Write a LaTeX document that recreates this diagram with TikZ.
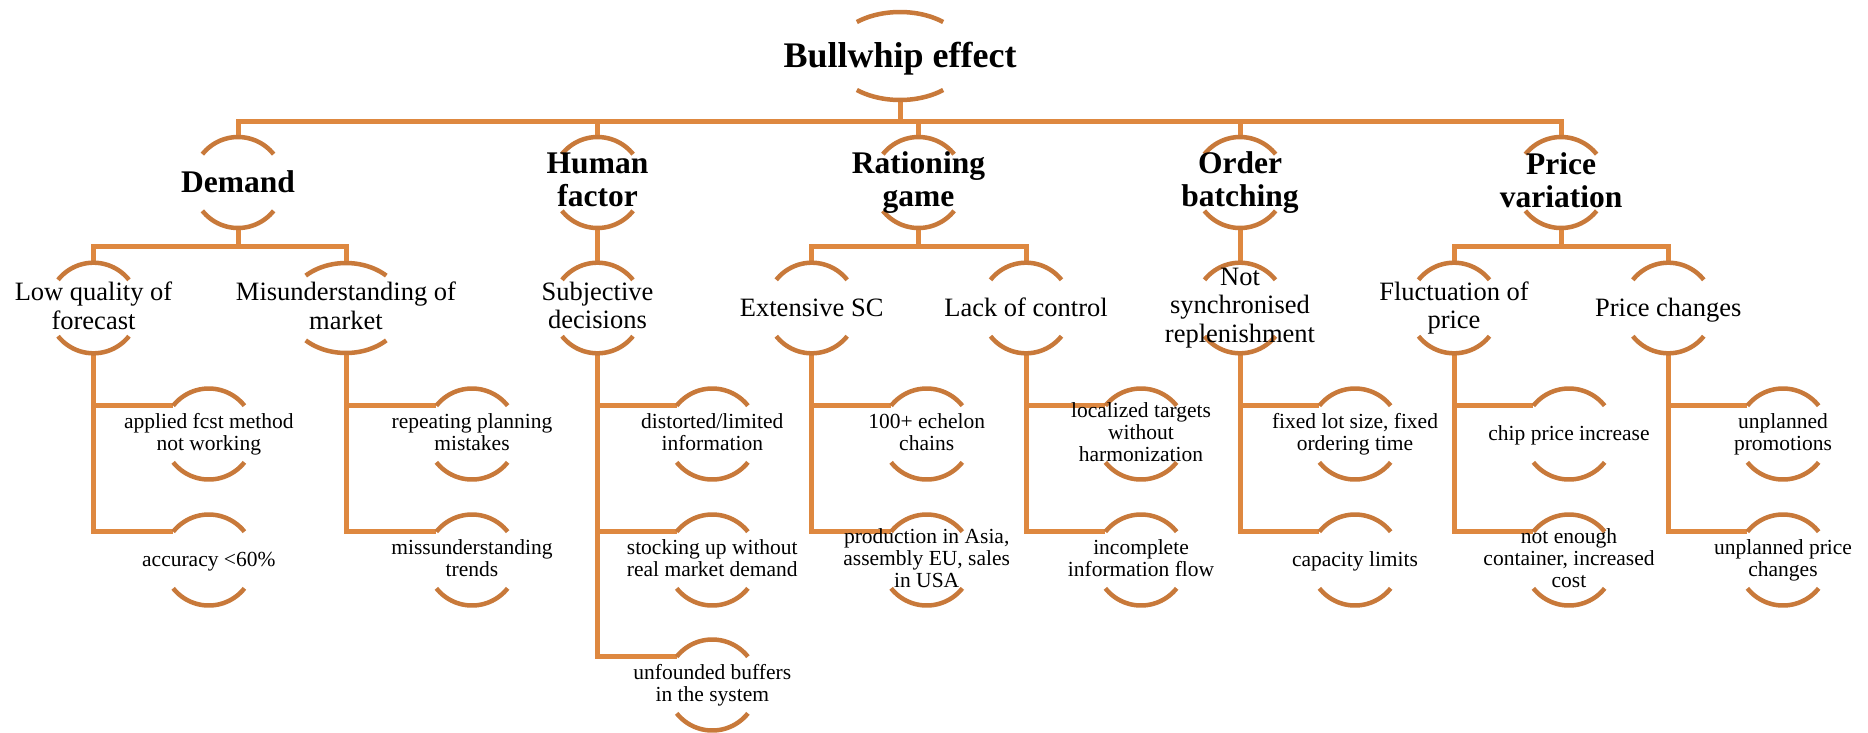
\documentclass[tikz,border=0pt]{standalone}
\usepackage{fontspec}
\setmainfont{Liberation Serif}
\usetikzlibrary{calc}
\definecolor{arcorange}{RGB}{200,121,58}
\definecolor{linkorange}{RGB}{222,136,64}
\pgfdeclarelayer{background}
\pgfsetlayers{background,main}

% line strut: 0.84em above and 0.18em below the baseline
\newcommand\lstrut{\rule[-0.18em]{0pt}{1.02em}}

% upper and lower bracket arcs around a node centre
% #1 node, #2 x radius, #3 y radius, #4 start angle, #5 end angle
\newcommand\arcpair[5]{%
  \begin{scope}[shift={(#1.center)}]
    \draw[arcline] plot[domain=#4:#5, samples=30, smooth, variable=\ang]
      ({#2*cos(\ang)},{#3*sin(\ang)});
    \draw[arcline] plot[domain=#4:#5, samples=30, smooth, variable=\ang]
      ({#2*cos(\ang)},{-#3*sin(\ang)});
  \end{scope}%
}

\begin{document}
\begin{tikzpicture}[x=1pt, y=-1pt,
  conn/.style={draw=linkorange, line width=5pt},
  arcline/.style={draw=arcorange, line width=4.5pt},
  base/.style={inner sep=0pt, minimum width=70pt, align=center,
    execute at begin node=\lstrut, execute at end node=\lstrut},
  titlebox/.style={base, minimum height=88pt,
    font=\fontsize{36}{40}\selectfont\bfseries},
  catbox/.style={base, minimum height=91pt,
    font=\fontsize{31.5}{33}\selectfont\bfseries},
  causebox/.style={base, minimum height=90pt,
    font=\fontsize{26.5}{28.3}\selectfont},
  leafbox/.style={base, minimum height=91pt,
    font=\fontsize{21.5}{22}\selectfont},
]
\useasboundingbox (0,0) rectangle (1868,732);

% root
\node[titlebox] (top) at (900,56) {Bullwhip effect};

% categories
\node[catbox] (dem) at (238,182.5)   {Demand};
\node[catbox] (hum) at (597.5,182.5) {Human\\factor};
\node[catbox] (rat) at (918.5,182.5) {Rationing\\game};
\node[catbox] (ord) at (1240,182.5)  {Order\\batching};
\node[catbox] (pri) at (1561,182.5)  {Price\\variation};

% causes
\node[causebox] (lowq)  at (93.5,308)   {Low quality of\\forecast};
\node[causebox] (mis)   at (346,308)    {Misunderstanding of\\market};
\node[causebox] (subj)  at (597.5,308)  {Subjective\\decisions};
\node[causebox] (ext)   at (811.7,308)  {Extensive SC};
\node[causebox] (lack)  at (1026,308)   {Lack of control};
\node[causebox] (nsync) at (1240,308)   {Not\\synchronised\\replenishment};
\node[causebox] (fluc)  at (1454,308)   {Fluctuation of\\price};
\node[causebox] (pchg)  at (1668.3,308) {Price changes};

% details
\node[leafbox] (lowqA)  at (208.8,434) {applied fcst method\\not working};
\node[leafbox] (lowqB)  at (208.8,560) {accuracy <60\%};
\node[leafbox] (misA)   at (472,434)   {repeating planning\\mistakes};
\node[leafbox] (misB)   at (472,560)   {missunderstanding\\trends};
\node[leafbox] (subjA)  at (712.3,434) {distorted/limited\\information};
\node[leafbox] (subjB)  at (712.3,560) {stocking up without\\real market demand};
\node[leafbox] (subjC)  at (712.3,685) {unfounded buffers\\in the system};
\node[leafbox] (extA)   at (926.7,434) {100+ echelon\\chains};
\node[leafbox] (extB)   at (926.7,560) {production in Asia,\\assembly EU, sales\\in USA};
\node[leafbox] (lackA)  at (1141,434)  {localized targets\\without\\harmonization};
\node[leafbox] (lackB)  at (1141,560)  {incomplete\\information flow};
\node[leafbox] (nsyncA) at (1355,434)  {fixed lot size, fixed\\ordering time};
\node[leafbox] (nsyncB) at (1355,560)  {capacity limits};
\node[leafbox] (flucA)  at (1569,434)  {chip price increase};
\node[leafbox] (flucB)  at (1569,560)  {not enough\\container, increased\\cost};
\node[leafbox] (pchgA)  at (1783,434)  {unplanned\\promotions};
\node[leafbox] (pchgB)  at (1783,560)  {unplanned price\\changes};

\coordinate (busA) at (0,121);
\coordinate (busB) at (0,246);

\begin{pgfonlayer}{background}
  \fill[white] (0,0) rectangle (1868,732);

  % root to categories
  \foreach \c in {dem,hum,rat,ord,pri}
    \draw[conn] (top.south) -- (top.south |- busA) -| (\c.north);

  % categories to causes
  \foreach \p/\c in {dem/lowq, dem/mis, rat/ext, rat/lack, pri/fluc, pri/pchg}
    \draw[conn] (\p.south) -- (\p.south |- busB) -| (\c.north);
  \draw[conn] (hum.south) -- (subj.north);
  \draw[conn] (ord.south) -- (nsync.north);

  % causes to details, meeting the left end of each upper arc
  \foreach \p/\c in {lowq/lowqA, lowq/lowqB, mis/misA, mis/misB,
      subj/subjA, subj/subjB, subj/subjC, ext/extA, ext/extB,
      lack/lackA, lack/lackB, nsync/nsyncA, nsync/nsyncB,
      fluc/flucA, fluc/flucB, pchg/pchgA, pchg/pchgB}
    \draw[conn] (\p.south) |- ($(\c.center)+(-35.6,-28.3)$);

  % bracket arcs
  \arcpair{top}{68}{44}{50.6}{129.4}
  \foreach \n in {dem,hum,rat,ord,pri}
    {\arcpair{\n}{45.5}{45.5}{38.5}{141.5}}
  \foreach \n in {lowq,subj,ext,lack,nsync,fluc,pchg}
    {\arcpair{\n}{45.3}{45.3}{38.5}{141.5}}
  \arcpair{mis}{58}{45}{46}{134}
  \foreach \n in {lowqA,lowqB,misA,misB,subjA,subjB,subjC,extA,extB,
      lackA,lackB,nsyncA,nsyncB,flucA,flucB,pchgA,pchgB}
    {\arcpair{\n}{45.5}{45.5}{38.5}{141.5}}
\end{pgfonlayer}
\end{tikzpicture}
\end{document}
